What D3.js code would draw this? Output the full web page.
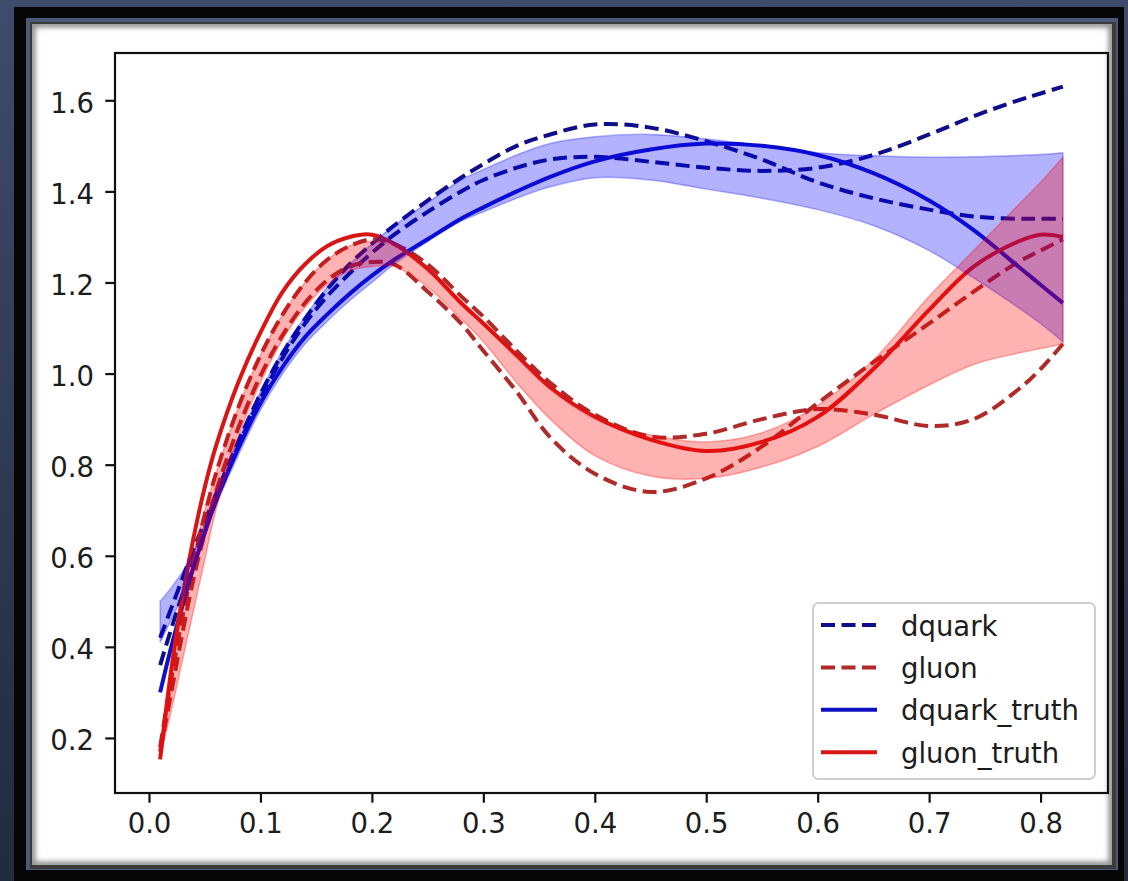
<!DOCTYPE html>
<html>
<head>
<meta charset="utf-8">
<script src="https://cdn.jsdelivr.net/npm/d3@7"></script>
<style>
  html, body { margin: 0; padding: 0; background: #2c3650; }
  svg { display: block; }
</style>
</head>
<body>
<div id="chart"></div>
<script>
// Sample positions shared by every curve
const xValues = [0.01, 0.02, 0.03, 0.04, 0.05, 0.06, 0.08, 0.10, 0.12, 0.14, 0.16, 0.18, 0.20, 0.22, 0.25,
                 0.28, 0.30, 0.33, 0.36, 0.40, 0.45, 0.50, 0.55, 0.60, 0.65, 0.70, 0.74, 0.78, 0.80, 0.82];

// d-quark: two fitted replicas, the truth curve and the uncertainty band
const dquarkFitA = [0.42, 0.485, 0.55, 0.615, 0.675, 0.735, 0.85, 0.955, 1.045, 1.12, 1.185, 1.24, 1.285, 1.325, 1.38,
                    1.43, 1.46, 1.50, 1.525, 1.547, 1.54, 1.51, 1.47, 1.42, 1.385, 1.36, 1.345, 1.34, 1.34, 1.34];
const dquarkFitB = [0.36, 0.44, 0.515, 0.59, 0.655, 0.72, 0.84, 0.945, 1.035, 1.11, 1.17, 1.22, 1.265, 1.305, 1.355,
                    1.40, 1.425, 1.452, 1.47, 1.476, 1.465, 1.452, 1.445, 1.452, 1.48, 1.525, 1.565, 1.60, 1.615, 1.63];
const dquarkTruth = [0.30, 0.40, 0.49, 0.575, 0.65, 0.72, 0.835, 0.935, 1.015, 1.08, 1.13, 1.175, 1.215, 1.25, 1.295,
                     1.34, 1.365, 1.40, 1.432, 1.466, 1.492, 1.505, 1.50, 1.48, 1.44, 1.38, 1.315, 1.235, 1.195, 1.155];
const dquarkBandLow = [0.41, 0.46, 0.51, 0.575, 0.645, 0.71, 0.82, 0.92, 1.00, 1.065, 1.115, 1.16, 1.20, 1.24, 1.29,
                       1.335, 1.355, 1.385, 1.41, 1.43, 1.425, 1.405, 1.385, 1.36, 1.325, 1.27, 1.21, 1.145, 1.11, 1.07];
const dquarkBandHigh = [0.50, 0.53, 0.565, 0.61, 0.67, 0.74, 0.855, 0.96, 1.05, 1.125, 1.19, 1.24, 1.285, 1.325, 1.375,
                        1.425, 1.448, 1.48, 1.505, 1.52, 1.525, 1.515, 1.50, 1.485, 1.478, 1.475, 1.476, 1.479, 1.481, 1.485];

// gluon: two fitted replicas, the truth curve and the uncertainty band
const gluonFitA = [0.17, 0.30, 0.43, 0.55, 0.65, 0.74, 0.88, 0.995, 1.085, 1.155, 1.205, 1.235, 1.245, 1.24, 1.18,
                   1.11, 1.05, 0.96, 0.86, 0.78, 0.74, 0.77, 0.84, 0.935, 1.025, 1.11, 1.18, 1.245, 1.27, 1.295];
const gluonFitB = [0.18, 0.33, 0.465, 0.585, 0.69, 0.78, 0.925, 1.04, 1.13, 1.20, 1.25, 1.28, 1.295, 1.285, 1.24,
                   1.17, 1.125, 1.05, 0.98, 0.91, 0.862, 0.868, 0.90, 0.922, 0.91, 0.885, 0.90, 0.965, 1.01, 1.065];
const gluonTruth = [0.153, 0.35, 0.51, 0.64, 0.75, 0.84, 0.98, 1.09, 1.18, 1.24, 1.28, 1.30, 1.305, 1.285, 1.23,
                    1.155, 1.11, 1.04, 0.97, 0.905, 0.855, 0.83, 0.85, 0.905, 1.01, 1.14, 1.235, 1.29, 1.305, 1.30];
const gluonBandLow = [0.16, 0.26, 0.37, 0.48, 0.59, 0.70, 0.86, 0.98, 1.075, 1.145, 1.195, 1.225, 1.235, 1.235, 1.19,
                      1.12, 1.07, 0.98, 0.90, 0.82, 0.775, 0.77, 0.795, 0.84, 0.91, 0.975, 1.02, 1.045, 1.055, 1.065];
const gluonBandHigh = [0.19, 0.34, 0.48, 0.60, 0.70, 0.78, 0.925, 1.04, 1.13, 1.20, 1.25, 1.28, 1.29, 1.28, 1.225,
                       1.16, 1.11, 1.035, 0.965, 0.90, 0.865, 0.85, 0.87, 0.93, 1.03, 1.17, 1.27, 1.37, 1.42, 1.475];

// Axis ticks
const xTicks = [0.0, 0.1, 0.2, 0.3, 0.4, 0.5, 0.6, 0.7, 0.8];
const yTicks = [0.2, 0.4, 0.6, 0.8, 1.0, 1.2, 1.4, 1.6];

// Legend entries
const legendLabels = ["dquark", "gluon", "dquark_truth", "gluon_truth"];

const colors = {
  dquarkFit: "#0e0e8a",
  gluonFit: "#b02a2a",
  dquarkTruth: "#1010c4",
  gluonTruth: "#d81616",
  dquarkBand: "#0000ff",
  gluonBand: "#ff0000"
};

const W = 1128, H = 881;
const plot = { left: 115, right: 1108, top: 53, bottom: 793 };
const FONT = "'DejaVu Sans', sans-serif";
const FONT_SIZE = 27.5;
const LW = 4;
const DASH = "14,6.5";

const svg = d3.select("#chart").append("svg")
  .attr("width", W).attr("height", H)
  .attr("viewBox", `0 0 ${W} ${H}`);

const defs = svg.append("defs");
const bgGrad = defs.append("linearGradient").attr("id", "bgGrad")
  .attr("x1", 0).attr("y1", 0).attr("x2", 0).attr("y2", 1);
bgGrad.append("stop").attr("offset", "0%").attr("stop-color", "#3e4b6c");
bgGrad.append("stop").attr("offset", "100%").attr("stop-color", "#222a3d");

defs.append("filter").attr("id", "edgeShade")
  .attr("x", "-5%").attr("y", "-5%").attr("width", "110%").attr("height", "110%")
  .append("feGaussianBlur").attr("stdDeviation", 2.5);

const panel = { x: 32, y: 24, w: 1080, h: 841 };
defs.append("clipPath").attr("id", "panelClip")
  .append("rect").attr("x", panel.x).attr("y", panel.y).attr("width", panel.w).attr("height", panel.h);
defs.append("clipPath").attr("id", "plotClip")
  .append("rect").attr("x", plot.left).attr("y", plot.top)
  .attr("width", plot.right - plot.left).attr("height", plot.bottom - plot.top);

// Surrounding frame
svg.append("rect").attr("width", W).attr("height", H).attr("fill", "url(#bgGrad)");
svg.append("rect").attr("x", 14).attr("y", 7).attr("width", 1110).attr("height", H - 7).attr("fill", "#060606");
svg.append("rect").attr("x", 26).attr("y", 18).attr("width", 1092).attr("height", 852).attr("fill", "#4c5a7a");
svg.append("rect").attr("x", 30).attr("y", 22).attr("width", 1086).attr("height", 847).attr("fill", "#3a3a3a");
svg.append("rect").attr("x", panel.x).attr("y", panel.y).attr("width", panel.w).attr("height", panel.h).attr("fill", "#ffffff");
svg.append("g").attr("clip-path", "url(#panelClip)")
  .append("rect")
  .attr("x", panel.x).attr("y", panel.y).attr("width", panel.w).attr("height", panel.h)
  .attr("fill", "none").attr("stroke", "#8f8f8f").attr("stroke-width", 7)
  .attr("filter", "url(#edgeShade)");

// Scales with 5% margins around the data, as the plotting library does
const allY = [].concat(dquarkFitA, dquarkFitB, dquarkTruth, dquarkBandLow, dquarkBandHigh,
                       gluonFitA, gluonFitB, gluonTruth, gluonBandLow, gluonBandHigh);
const [yMin, yMax] = d3.extent(allY);
const yPad = 0.05 * (yMax - yMin);
const [xMin, xMax] = d3.extent(xValues);
const xPad = 0.05 * (xMax - xMin);

const x = d3.scaleLinear().domain([xMin - xPad, xMax + xPad]).range([plot.left, plot.right]);
const y = d3.scaleLinear().domain([yMin - yPad, yMax + yPad]).range([plot.bottom, plot.top]);

const curve = d3.curveCatmullRom.alpha(0.5);
const line = d3.line().x(d => x(d[0])).y(d => y(d[1])).curve(curve);
const area = d3.area().x(d => x(d[0])).y0(d => y(d[1])).y1(d => y(d[2])).curve(curve);

const pairs = vals => xValues.map((xv, i) => [xv, vals[i]]);
const band = (lo, hi) => xValues.map((xv, i) => [xv, lo[i], hi[i]]);

const g = svg.append("g").attr("clip-path", "url(#plotClip)");

// Fitted replicas (dashed)
const fits = [
  { data: dquarkFitA, color: colors.dquarkFit },
  { data: dquarkFitB, color: colors.dquarkFit },
  { data: gluonFitA, color: colors.gluonFit },
  { data: gluonFitB, color: colors.gluonFit }
];
g.selectAll("path.fit").data(fits).join("path")
  .attr("class", "fit")
  .attr("d", d => line(pairs(d.data)))
  .attr("fill", "none").attr("stroke", d => d.color)
  .attr("stroke-width", LW).attr("stroke-dasharray", DASH);

// Truth curves (solid)
const truths = [
  { data: dquarkTruth, color: colors.dquarkTruth },
  { data: gluonTruth, color: colors.gluonTruth }
];
g.selectAll("path.truth").data(truths).join("path")
  .attr("class", "truth")
  .attr("d", d => line(pairs(d.data)))
  .attr("fill", "none").attr("stroke", d => d.color)
  .attr("stroke-width", LW).attr("stroke-linejoin", "round");

// Uncertainty bands
const bands = [
  { lo: dquarkBandLow, hi: dquarkBandHigh, color: colors.dquarkBand },
  { lo: gluonBandLow, hi: gluonBandHigh, color: colors.gluonBand }
];
g.selectAll("path.band").data(bands).join("path")
  .attr("class", "band")
  .attr("d", d => area(band(d.lo, d.hi)))
  .attr("fill", d => d.color).attr("fill-opacity", 0.3)
  .attr("stroke", d => d.color).attr("stroke-opacity", 0.3).attr("stroke-width", 1.5);

// Axes
const tickLen = 9.7;
const yAxis = svg.append("g").attr("transform", `translate(${plot.left},0)`)
  .call(d3.axisLeft(y).tickValues(yTicks).tickFormat(d3.format(".1f")).tickSize(tickLen).tickPadding(11.3));
const xAxis = svg.append("g").attr("transform", `translate(0,${plot.bottom})`)
  .call(d3.axisBottom(x).tickValues(xTicks).tickFormat(d3.format(".1f")).tickSize(tickLen).tickPadding(10));

[yAxis, xAxis].forEach(ax => {
  ax.select(".domain").remove();
  ax.selectAll(".tick line").attr("stroke", "#111").attr("stroke-width", 2.2);
  ax.selectAll(".tick text")
    .attr("fill", "#1c1c1c")
    .style("font-family", FONT).style("font-size", FONT_SIZE + "px");
});
yAxis.selectAll(".tick text").attr("dy", 12);
xAxis.selectAll(".tick text").attr("y", 40).attr("dy", 0);

// Axes frame
svg.append("rect")
  .attr("x", plot.left).attr("y", plot.top)
  .attr("width", plot.right - plot.left).attr("height", plot.bottom - plot.top)
  .attr("fill", "none").attr("stroke", "#111").attr("stroke-width", 2.2);

// Legend (lower right)
const legendStyles = [
  { color: colors.dquarkFit, dash: DASH },
  { color: colors.gluonFit, dash: DASH },
  { color: colors.dquarkTruth, dash: null },
  { color: colors.gluonTruth, dash: null }
];
const legend = svg.append("g");
legend.append("rect")
  .attr("x", 813).attr("y", 603).attr("width", 282).attr("height", 176)
  .attr("rx", 5.5).attr("ry", 5.5)
  .attr("fill", "#ffffff").attr("fill-opacity", 0.8)
  .attr("stroke", "#cfcfcf").attr("stroke-width", 2);

const rowStep = 42.4;
const rows = legend.selectAll("g.row").data(legendLabels).join("g")
  .attr("class", "row")
  .attr("transform", (d, i) => `translate(0,${625 + i * rowStep})`);
rows.append("line")
  .attr("x1", 821).attr("x2", 877).attr("y1", 0).attr("y2", 0)
  .attr("stroke", (d, i) => legendStyles[i].color)
  .attr("stroke-width", LW)
  .attr("stroke-dasharray", (d, i) => legendStyles[i].dash);
rows.append("text")
  .attr("x", 901).attr("y", 10.5)
  .attr("fill", "#1c1c1c")
  .style("font-family", FONT).style("font-size", FONT_SIZE + "px")
  .text(d => d);
</script>
</body>
</html>
